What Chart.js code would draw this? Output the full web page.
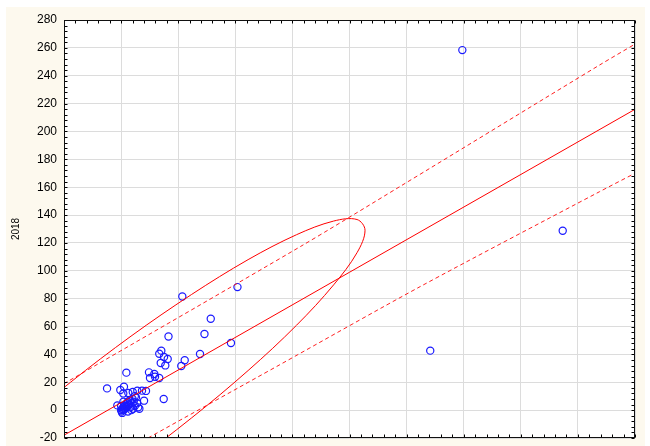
<!DOCTYPE html>
<html>
<head>
<meta charset="utf-8">
<script src="https://cdn.jsdelivr.net/npm/chart.js@4"></script>
<style>
  html, body { margin: 0; padding: 0; background: #ffffff; }
  #wrap { width: 650px; height: 446px; }
</style>
</head>
<body>
<div id="wrap"><canvas id="chart" width="650" height="446"></canvas></div>
<script>
// scatter points (x has no readable labels; scale -50..450 by 50)
const pointsX = [298.8, 386.7, 270.7, 53.6, 101.9, 78.5, 73.0, 96.2, 41.5, 69.1, 55.7, 52.7,
  35.2, 33.4, 37.6, 40.8, 34.7, 38.7, 4.6, 24.4, 29.1, 25.3, 29.7, 33.4,
  -12.3, 2.5, -0.7, 1.9, 6.3, 10.2, 14.2, 18.3, 21.8, 37.3, 20.1, -3.3,
  0, 0.5, 1, 1.5, 2, 2.5, 3, 3.5, 4, 4.5, 5, 5.5, 6, 7, 7.5, 8, 9, 10, 10.5, 11,
  12, 13, 14, 15, 16, 6, 9, 12, 2, 0, 1];
const pointsY = [258.4, 128.7, 42.7, 81.6, 88.3, 65.6, 54.6, 48.2, 52.9, 40.3, 35.8, 31.7,
  42.7, 40.5, 38.1, 36.7, 33.8, 32.1, 26.9, 27.1, 25.9, 23.1, 24.0, 23.1,
  15.6, 16.8, 14.5, 12.0, 12.3, 13.0, 14.0, 14.0, 13.8, 8.0, 6.8, 3.4,
  0, -1, 1, 0, 2, 0.5, 3, 1, 4, 2, 5, 3, 6, 4, 7, 2, 5, 8, 1, 6,
  3, 9, 5, 2, 1, -1, 0, 10, 6, 3, -2];

// regression line
const fitX = [-50, 450];
const fitY = [-18.0, 215.9];

// prediction band (dashed)
const upperX = [-50, 157, 244, 419, 450];
const upperY = [19.0, 117.4, 160.4, 247.7, 262.7];
const lowerX = [23.6, 139, 262, 419, 450];
const lowerY = [-20, 32.6, 88.7, 156.8, 170];

// ellipse outline, estimated around the loop (starts off-chart at lower left)
const ellipseX = [-196.2, -189.2, -168.7, -136.2, -93.8, -44.3, 8.7, 61.7, 111.2, 153.6, 186.1, 206.6,
  213.6, 206.6, 186.1, 153.6, 111.2, 61.7, 8.7, -44.3, -93.8, -136.2, -168.7, -189.2, -196.2];
const ellipseY = [-114.7, -122.4, -121.4, -111.5, -93.6, -68.6, -38.7, -5.6, 28.4, 60.9, 89.9, 113.0,
  129.1, 136.8, 135.7, 125.9, 108.0, 83.0, 53.1, 20.0, -14.0, -46.5, -75.5, -98.6, -114.7];

const yTicks = [-20, 0, 20, 40, 60, 80, 100, 120, 140, 160, 180, 200, 220, 240, 260, 280];

const zip = (xs, ys) => xs.map((x, i) => ({ x: x, y: ys[i] }));

// cream page + white plot + frame with inward ticks
const frame = {
  id: 'frame',
  beforeDraw(chart) {
    const c = chart.ctx, a = chart.chartArea;
    c.save();
    c.fillStyle = '#ffffff';
    c.fillRect(0, 0, chart.width, chart.height);
    c.fillStyle = '#fdf9ee';
    c.fillRect(6, 7, 639, 439);
    c.fillStyle = '#ffffff';
    c.fillRect(a.left, a.top, a.right - a.left, a.bottom - a.top);
    c.restore();
  },
  afterDraw(chart) {
    const c = chart.ctx, a = chart.chartArea;
    const xs = chart.scales.x, ys = chart.scales.y;
    const l = Math.round(a.left) + 0.5, r = Math.round(a.right) - 0.5;
    const t = Math.round(a.top) + 0.5, b = Math.round(a.bottom) - 0.5;
    c.save();
    c.strokeStyle = '#000000';
    c.lineWidth = 1;
    c.beginPath();
    for (let v = -50; v <= 450; v += 10) {
      const p = Math.round(xs.getPixelForValue(v)) + 0.5;
      c.moveTo(p, b); c.lineTo(p, b - 3);
      c.moveTo(p, t); c.lineTo(p, t + 3);
    }
    for (let v = -20; v <= 280; v += 4) {
      const p = Math.round(ys.getPixelForValue(v)) + 0.5;
      c.moveTo(l, p); c.lineTo(l + 3, p);
      c.moveTo(r, p); c.lineTo(r - 3, p);
    }
    c.stroke();
    c.strokeStyle = '#111111';
    c.strokeRect(l, t, r - l, b - t);
    c.restore();
  }
};

new Chart(document.getElementById('chart'), {
  type: 'scatter',
  data: {
    datasets: [
      { data: zip(ellipseX, ellipseY), showLine: true, borderColor: '#ff0000', borderWidth: 1,
        pointRadius: 0, tension: 0.35, fill: false },
      { data: zip(fitX, fitY), showLine: true, borderColor: '#ff0000', borderWidth: 1, pointRadius: 0 },
      { data: zip(upperX, upperY), showLine: true, borderColor: '#ff2020', borderWidth: 1,
        borderDash: [4, 3], pointRadius: 0, tension: 0.3 },
      { data: zip(lowerX, lowerY), showLine: true, borderColor: '#ff2020', borderWidth: 1,
        borderDash: [4, 3], pointRadius: 0, tension: 0.3 },
      { data: zip(pointsX, pointsY), showLine: false, pointRadius: 3.6, pointBorderWidth: 1.2,
        pointBorderColor: '#1a1aff', pointBackgroundColor: 'rgba(0,0,0,0)' }
    ]
  },
  options: {
    responsive: false,
    animation: false,
    events: [],
    layout: { padding: { left: 0, top: 20, right: 15, bottom: 7 } },
    plugins: { legend: { display: false }, tooltip: { enabled: false } },
    scales: {
      x: {
        type: 'linear', min: -50, max: 450,
        ticks: { display: false, stepSize: 50 },
        grid: { color: '#dcdcdc', drawTicks: false },
        border: { display: false },
        afterFit: s => { s.height = 1; }
      },
      y: {
        type: 'linear', min: -20, max: 280,
        afterBuildTicks: s => { s.ticks = yTicks.map(v => ({ value: v })); },
        ticks: { color: '#000000', padding: 7, font: { family: 'Arial, "Liberation Sans"', size: 12 } },
        grid: { color: '#dcdcdc', drawTicks: false },
        border: { display: false },
        title: { display: true, text: '2018', color: '#000000', padding: { top: 10, bottom: 0 },
          font: { family: 'Arial, "Liberation Sans"', size: 10 } },
        afterFit: s => { s.width = 64; s.paddingTop = 0; s.paddingBottom = 0; }
      }
    }
  },
  plugins: [frame]
});
</script>
</body>
</html>
